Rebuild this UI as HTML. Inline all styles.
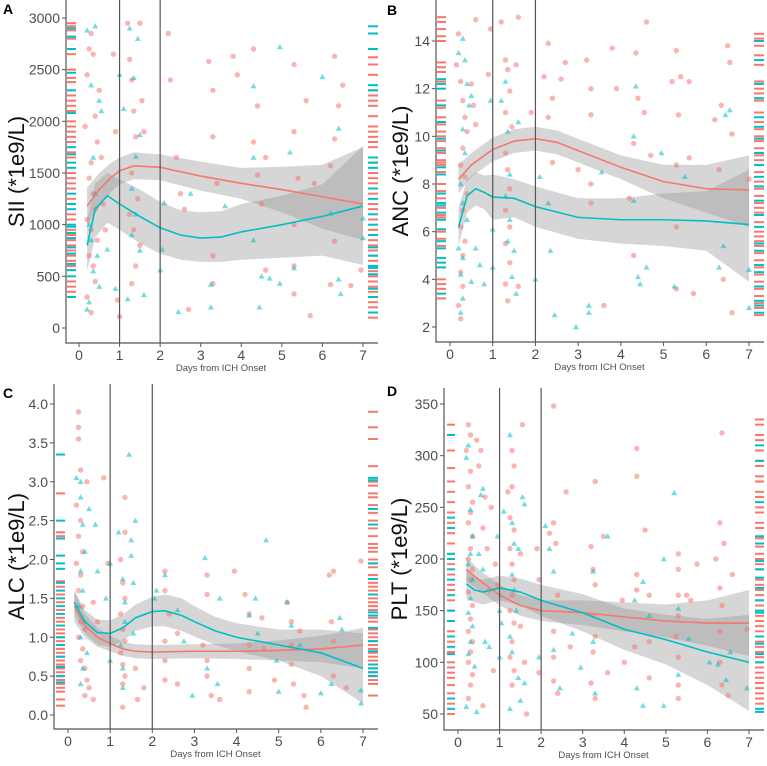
<!DOCTYPE html>
<html><head><meta charset="utf-8"><style>
html,body{margin:0;padding:0;background:#fff;}
svg{display:block;font-family:"Liberation Sans",sans-serif;}
</style></head><body>
<svg id="chart" width="767" height="766" viewBox="0 0 767 766"></svg>
<script>
// ---------- Panel A : SII ----------
const aYTicks=[0,500,1000,1500,2000,2500,3000];
const aRedPts=[[0.15,1950],[0.2,2450],[0.25,2700],[0.3,2850],[0.35,2650],[0.4,2050],[0.45,1800],[0.3,1600],[0.25,1450],[0.35,1300],[0.4,1150],[0.2,1050],[0.3,950],[0.45,850],[0.25,700],[0.35,600],[0.4,450],[0.2,300],[0.3,150],[0.5,2300],[0.55,1650],[0.6,1200],[0.65,950],[0.85,2650],[0.9,1900],[0.95,270],[1.0,110],[1.2,2950],[1.25,2600],[1.3,2400],[1.35,2100],[1.4,1850],[1.3,1500],[1.45,1250],[1.25,1100],[1.35,950],[1.5,800],[1.4,600],[1.3,430],[1.55,2200],[1.6,1900],[1.5,2950],[2.2,2850],[2.25,2400],[2.4,1650],[2.5,1300],[2.6,1150],[2.7,180],[3.2,2580],[3.3,2300],[3.3,1850],[3.4,1400],[3.3,700],[3.3,430],[3.8,2630],[3.9,2450],[4.3,2700],[4.4,2150],[4.3,1800],[4.4,1480],[4.5,1200],[4.6,1650],[4.6,560],[5.3,2550],[5.3,1900],[5.4,1450],[5.3,1000],[5.3,600],[5.3,330],[5.6,2200],[5.7,120],[5.8,1400],[6.2,1570],[6.3,2630],[6.3,1830],[6.4,2150],[6.5,2350],[6.3,840],[6.2,420],[6.7,410],[6.95,560]];
const aCyanPts=[[0.2,2880],[0.4,2920],[0.3,2350],[0.5,2200],[0.55,2100],[0.35,1650],[0.4,1300],[0.25,1000],[0.3,850],[0.45,700],[0.35,550],[0.5,400],[0.25,250],[0.2,180],[1.0,2450],[1.1,2120],[1.25,2900],[1.35,2420],[1.45,2800],[1.5,1870],[1.4,1660],[1.3,1350],[1.4,1100],[1.3,900],[1.5,750],[1.6,320],[1.2,280],[0.7,760],[0.9,380],[2.05,760],[2.1,1210],[2.0,560],[2.45,155],[2.75,1300],[3.25,420],[3.25,200],[3.6,1180],[4.3,2340],[4.3,1650],[4.3,850],[4.5,500],[4.45,200],[4.7,480],[4.95,2720],[4.95,430],[5.2,1700],[5.3,580],[6.0,2430],[6.4,1930],[6.4,470],[6.45,330],[7.0,1060],[7.0,870],[6.2,1110]];
const aRedSmX=[0.2,0.5,0.8,1.0,1.35,2,3,4,5,6,7];
const aRedSmY=[1180,1340,1460,1520,1570,1555,1470,1400,1340,1270,1200];
const aRedLo=[1000,1180,1320,1390,1440,1430,1330,1250,1120,960,850];
const aRedHi=[1360,1500,1600,1650,1700,1680,1610,1550,1560,1580,1750];
const aCyanSmX=[0.2,0.4,0.7,1.0,1.5,2,2.5,3,3.5,4,5,6,7];
const aCyanSmY=[800,1150,1280,1200,1080,970,900,870,880,930,1000,1080,1180];
const aCyanLo=[550,880,1020,950,820,720,660,640,640,660,680,700,610];
const aCyanHi=[1050,1400,1500,1440,1340,1220,1140,1120,1130,1200,1280,1390,1760];
const aRugLRed=[2950,2920,2880,2800,2700,2650,2500,2420,2380,2250,2200,2150,2100,2000,1950,1900,1850,1800,1700,1650,1500,1450,1400,1350,1250,1100,1050,950,900,850,800,750,700,650,600,450,400,350,300];
const aRugLCyan=[2900,2820,2700,2470,2300,2080,1750,1680,1600,1550,1300,1200,1150,1000,980,920,870,780,720,620,560,500,300];
const aRugRRed=[2850,2700,2620,2550,2450,2300,2250,2200,2150,2050,1950,1900,1850,1800,1750,1600,1500,1450,1400,1300,1200,1150,1050,950,900,850,800,750,700,650,550,500,450,400,350,250,200,100];
const aRugRCyan=[2920,2850,2700,2350,2300,1650,1600,1550,1350,1250,1100,1000,900,780,700,600,580,520,380,300,150];

// ---------- Panel B : ANC ----------
const bYTicks=[2,4,6,8,10,12,14];
const bRedPts=[[0.15,13],[0.2,14.3],[0.25,12.3],[0.3,11.5],[0.35,10.8],[0.4,10.2],[0.3,9.5],[0.25,8.8],[0.35,8.3],[0.4,7.6],[0.3,6.9],[0.25,6.2],[0.35,5.6],[0.3,5.0],[0.25,4.3],[0.3,3.7],[0.2,2.9],[0.25,2.35],[0.5,12.2],[0.55,11.3],[0.6,10.5],[0.6,14.9],[0.9,12.6],[0.95,14.5],[1.2,14.8],[1.3,13.2],[1.35,12.8],[1.4,11.9],[1.3,11.0],[1.45,10.4],[1.3,9.3],[1.35,8.6],[1.4,7.8],[1.3,6.9],[1.4,6.2],[1.3,5.5],[1.4,4.7],[1.3,3.8],[1.35,3.1],[1.6,15],[1.55,13],[1.6,3.7],[1.9,11.0],[2.2,12.5],[2.3,13.9],[2.4,11.6],[2.3,10.8],[2.4,8.9],[2.6,12.4],[2.7,13.1],[3.0,8.6],[3.2,13.2],[3.3,12.0],[3.3,10.9],[3.3,8.0],[3.3,7.2],[3.6,2.9],[3.8,13.7],[3.9,12.0],[4.2,7.4],[4.3,9.7],[4.3,5.0],[4.35,13.5],[4.4,11.6],[4.55,11.0],[4.6,14.8],[4.7,9.2],[5.2,12.3],[5.3,13.6],[5.35,10.9],[5.3,8.8],[5.3,6.2],[5.3,3.6],[5.4,12.5],[5.6,12.3],[5.6,9.1],[5.7,3.4],[6.2,10.7],[6.35,11.3],[6.5,13.8],[6.55,13.1],[6.6,10.1],[6.3,8.6],[6.4,4.0],[6.6,2.6],[7.0,8.2]];
const bCyanPts=[[0.2,13.5],[0.3,14.1],[0.35,13.2],[0.4,12.2],[0.5,11.7],[0.45,11.3],[0.3,10.3],[0.35,9.3],[0.25,8.0],[0.3,7.2],[0.4,6.5],[0.2,5.3],[0.3,4.9],[0.25,4.2],[0.3,3.2],[0.25,2.6],[0.5,3.9],[0.6,5.3],[0.7,4.6],[0.8,3.8],[0.95,11.5],[1.0,6.1],[1.0,4.5],[1.2,11.5],[1.3,12.3],[1.35,10.2],[1.4,8.4],[1.3,7.5],[1.4,6.5],[1.35,5.6],[1.5,5.2],[1.45,4.1],[1.55,3.4],[1.6,10.6],[2.0,4.0],[2.1,8.3],[2.3,7.2],[2.35,5.2],[2.45,2.5],[2.95,2.0],[3.25,2.9],[3.25,2.6],[3.55,8.5],[4.3,10.0],[4.3,7.3],[4.35,12.1],[4.4,4.1],[4.45,3.8],[4.6,4.5],[4.95,9.3],[5.25,3.7],[5.5,8.3],[6.3,4.5],[6.45,10.9],[6.55,11.1],[6.4,5.4],[7.0,4.4],[7.0,2.8]];
const bRedSmX=[0.2,0.5,1,1.5,2,2.5,3,4,5,6,7];
const bRedSmY=[8.2,8.8,9.45,9.8,9.9,9.75,9.4,8.7,8.1,7.8,7.75];
const bRedLo=[7.6,8.3,8.95,9.3,9.4,9.25,8.9,8.2,7.4,6.8,6.2];
const bRedHi=[8.8,9.3,9.95,10.3,10.4,10.25,9.9,9.2,8.8,8.8,9.2];
const bCyanSmX=[0.2,0.4,0.6,0.8,1,1.5,2,3,4,5,6,7];
const bCyanSmY=[6.2,7.5,7.8,7.65,7.45,7.4,7.05,6.6,6.5,6.5,6.45,6.3];
const bCyanLo=[5.4,6.8,7.1,6.95,6.5,6.6,6.2,5.7,5.5,5.4,5.2,3.9];
const bCyanHi=[7.0,8.2,8.5,8.35,8.4,8.2,7.9,7.4,7.4,7.6,7.7,8.6];
const bRugLRed=[15,14.8,14.5,14.2,14.0,13.1,12.9,12.7,12.3,11.5,11.2,10.8,10.5,10.2,10.0,9.8,9.5,9.3,9.0,8.9,8.8,8.5,8.0,7.7,7.4,7.0,6.7,6.6,6.0,5.7,5.4,4.0,3.8,3.6,3.2];
const bRugLCyan=[12.4,12.2,12.0,11.3,10.6,9.9,9.4,8.7,8.4,7.6,7.2,7.1,6.8,6.5,6.1,5.6,5.3,4.9,4.7,4.5,3.4];
const bRugRRed=[14.3,14.1,13.8,13.4,13.0,12.3,12.0,11.8,11.5,11.0,10.6,10.3,10.0,9.8,9.5,9.2,9.0,8.5,8.1,7.8,7.5,7.2,7.0,6.8,6.4,6.0,5.8,5.6,5.4,5.1,4.8,4.5,4.2,3.9,3.6,3.3,3.0,2.8,2.5];
const bRugRCyan=[14.0,13.2,12.2,11.6,10.8,10.4,9.9,9.3,8.8,8.3,7.9,7.3,6.7,6.2,5.5,5.2,4.6,4.3,3.7,3.1,2.9,2.6];

// ---------- Panel C : ALC ----------
const cYTicks=[0.0,0.5,1.0,1.5,2.0,2.5,3.0,3.5,4.0];
const cRedPts=[[0.25,3.9],[0.25,3.7],[0.25,3.55],[0.3,3.15],[0.45,3.0],[0.2,2.7],[0.3,2.5],[0.25,2.3],[0.35,2.1],[0.2,1.95],[0.3,1.8],[0.25,1.6],[0.35,1.4],[0.3,1.2],[0.4,1.1],[0.25,1.0],[0.35,0.85],[0.3,0.7],[0.4,0.6],[0.45,0.45],[0.5,0.35],[0.4,0.25],[0.6,0.2],[0.6,1.45],[0.7,1.2],[0.85,3.05],[0.95,1.95],[1.25,2.0],[1.35,2.8],[1.35,2.35],[1.3,1.7],[1.35,1.5],[1.25,1.3],[1.3,1.1],[1.35,0.95],[1.25,0.8],[1.3,0.65],[1.35,0.5],[1.3,0.4],[1.3,0.1],[1.6,0.6],[1.65,0.2],[1.8,0.35],[2.3,1.85],[2.3,1.6],[2.4,1.3],[2.3,0.95],[2.3,0.7],[2.3,0.45],[2.6,0.4],[2.6,1.05],[3.3,1.8],[3.3,1.55],[3.2,0.9],[3.3,0.7],[3.3,0.5],[3.4,0.25],[3.6,0.2],[3.95,1.85],[4.2,1.55],[4.3,1.3],[4.3,0.9],[4.3,0.6],[4.3,0.3],[4.6,1.25],[4.65,0.85],[4.9,0.45],[5.2,1.45],[5.3,1.2],[5.3,0.9],[5.3,0.65],[5.35,0.4],[5.6,0.25],[5.65,0.1],[5.5,1.08],[6.2,1.8],[6.3,1.85],[6.25,1.2],[6.3,0.95],[6.3,0.5],[6.6,0.35],[6.95,1.98]];
const cCyanPts=[[0.2,3.05],[0.3,3.0],[0.3,2.8],[0.35,2.45],[0.4,2.1],[0.3,1.85],[0.35,1.6],[0.25,1.4],[0.4,1.2],[0.3,1.0],[0.45,0.8],[0.35,0.6],[0.3,0.4],[0.5,2.65],[0.65,2.45],[0.7,1.85],[0.9,1.5],[1.0,1.95],[1.0,0.7],[1.2,2.35],[1.3,1.75],[1.35,1.45],[1.35,1.2],[1.25,0.9],[1.3,0.6],[1.3,0.35],[1.45,3.35],[1.5,2.25],[1.6,2.5],[1.5,2.05],[1.55,1.7],[1.55,1.05],[2.05,1.5],[2.1,1.6],[2.3,1.8],[2.6,1.35],[2.75,0.95],[2.95,0.25],[3.25,2.02],[3.3,0.6],[3.55,0.4],[3.6,1.5],[4.3,1.28],[4.45,1.5],[4.5,1.05],[4.7,2.25],[4.95,0.7],[5.0,0.3],[5.2,1.45],[5.3,1.15],[5.5,0.9],[6.0,0.28],[6.25,0.4],[6.45,1.25],[6.5,1.1],[6.95,0.32],[6.95,0.15]];
const cRedSmX=[0.15,0.4,0.7,1.0,1.3,1.6,2,3,4,5,6,7];
const cRedSmY=[1.4,1.15,1.0,0.92,0.85,0.82,0.81,0.82,0.82,0.83,0.85,0.9];
const cRedLo=[1.2,1.0,0.88,0.82,0.76,0.73,0.72,0.73,0.72,0.7,0.68,0.6];
const cRedHi=[1.6,1.3,1.12,1.02,0.94,0.91,0.9,0.91,0.92,0.96,1.02,1.12];
const cCyanSmX=[0.15,0.4,0.7,1.0,1.3,1.6,2,2.3,2.7,3,3.5,4,5,6,7];
const cCyanSmY=[1.45,1.2,1.06,1.05,1.12,1.25,1.33,1.34,1.28,1.2,1.08,1.0,0.9,0.8,0.6];
const cCyanLo=[1.3,1.05,0.9,0.88,0.95,1.08,1.14,1.14,1.08,1.01,0.9,0.82,0.7,0.5,0.15];
const cCyanHi=[1.6,1.35,1.22,1.22,1.29,1.42,1.52,1.55,1.5,1.4,1.26,1.18,1.1,1.1,1.05];
const cRugLRed=[2.85,2.35,2.3,1.72,1.65,1.55,1.45,1.35,1.25,1.2,1.1,1.05,1.0,0.95,0.9,0.85,0.8,0.75,0.7,0.65,0.6,0.55,0.5,0.45,0.4,0.35,0.3,0.2,0.12];
const cRugLCyan=[3.35,2.5,2.27,2.05,1.95,1.88,1.7,1.6,1.5,1.4,1.3,1.15,1.0,0.9,0.75,0.62,0.5,0.42];
const cRugRRed=[3.9,3.7,3.55,3.2,3.0,2.95,2.85,2.8,2.7,2.6,2.5,2.4,2.3,2.2,2.15,2.1,2.0,1.95,1.9,1.8,1.7,1.65,1.6,1.5,1.45,1.4,1.35,1.25,1.2,1.1,1.05,1.0,0.95,0.9,0.85,0.8,0.75,0.7,0.6,0.55,0.5,0.45,0.4,0.25];
const cRugRCyan=[3.05,3.02,2.65,2.45,1.95,1.75,1.55,1.32,1.28,1.12,0.95,0.82,0.65,0.6,0.55,0.5];

// ---------- Panel D : PLT ----------
const dYTicks=[50,100,150,200,250,300,350];
const dRedPts=[[0.25,330],[0.3,320],[0.2,305],[0.3,285],[0.25,270],[0.35,255],[0.3,245],[0.25,235],[0.35,222],[0.3,210],[0.25,200],[0.35,190],[0.3,180],[0.25,168],[0.35,155],[0.3,142],[0.25,130],[0.35,120],[0.3,110],[0.25,100],[0.35,88],[0.3,78],[0.25,65],[0.45,315],[0.5,290],[0.55,305],[0.6,230],[0.65,260],[0.7,210],[0.75,170],[0.8,250],[0.9,195],[0.95,175],[0.85,92],[0.6,58],[1.2,265],[1.25,240],[1.3,305],[1.35,290],[1.3,270],[1.35,228],[1.25,210],[1.3,195],[1.35,180],[1.3,165],[1.25,150],[1.35,138],[1.3,120],[1.25,105],[1.35,92],[1.3,78],[1.55,330],[1.5,205],[1.5,135],[1.6,100],[1.65,50],[1.9,210],[1.95,180],[1.95,90],[2.2,225],[2.3,348],[2.3,235],[2.35,215],[2.4,165],[2.3,130],[2.3,105],[2.3,82],[2.4,70],[2.6,265],[2.7,115],[3.2,212],[3.25,190],[3.3,275],[3.3,175],[3.25,145],[3.3,125],[3.25,110],[3.2,80],[3.3,65],[3.5,222],[3.6,90],[3.95,160],[4.0,100],[4.3,307],[4.3,280],[4.3,185],[4.3,170],[4.25,115],[4.5,228],[4.6,165],[4.6,120],[4.6,85],[5.3,205],[5.3,190],[5.3,165],[5.3,145],[5.25,125],[5.3,105],[5.3,78],[5.3,65],[5.5,165],[5.6,160],[5.75,195],[6.2,200],[6.3,235],[6.3,172],[6.35,155],[6.3,130],[6.3,100],[6.35,78],[6.4,215],[6.5,68],[6.6,185],[6.95,132],[6.35,322]];
const dCyanPts=[[0.2,298],[0.25,310],[0.3,248],[0.35,222],[0.3,205],[0.25,195],[0.35,180],[0.3,162],[0.25,148],[0.35,135],[0.3,120],[0.25,108],[0.4,96],[0.45,52],[0.2,57],[0.55,262],[0.6,268],[0.5,205],[0.6,190],[0.65,120],[0.75,115],[0.95,222],[1.0,150],[1.0,105],[1.05,138],[1.1,246],[1.25,320],[1.3,235],[1.35,215],[1.3,185],[1.35,170],[1.25,125],[1.3,110],[1.25,55],[1.45,210],[1.4,150],[1.45,85],[1.5,63],[1.55,260],[1.6,253],[1.6,80],[1.95,105],[2.1,232],[2.2,210],[2.3,188],[2.3,112],[2.45,75],[2.75,128],[2.95,95],[3.25,188],[3.25,120],[3.3,70],[3.6,222],[4.25,160],[4.3,75],[4.45,178],[4.45,58],[4.6,145],[4.95,200],[4.95,58],[5.2,264],[5.3,152],[5.3,88],[5.55,123],[6.05,100],[6.25,98],[6.45,83],[6.55,110],[6.95,75]];
const dRedSmX=[0.2,0.5,1,1.5,2,3,4,5,6,7];
const dRedSmY=[190,180,165,155,150,148,144,140,138,138];
const dRedLo=[178,170,155,145,140,136,130,124,116,106];
const dRedHi=[202,190,175,165,160,160,158,156,160,170];
const dCyanSmX=[0.2,0.4,0.6,0.8,1,1.5,2,3,4,5,6,7];
const dCyanSmY=[176,170,168,170,172,168,160,148,132,122,110,100];
const dCyanLo=[162,158,156,158,160,155,145,130,112,98,78,53];
const dCyanHi=[190,182,180,182,184,181,175,166,152,146,142,146];
const dRugLRed=[330,305,288,275,265,255,245,235,225,215,205,200,195,185,175,170,160,150,140,130,120,110,100,95,90,85,78,70,60,50];
const dRugLCyan=[320,240,230,205,200,190,180,165,150,140,125,115,108,65,55];
const dRugRRed=[335,330,320,315,305,295,290,280,275,265,260,250,245,235,230,220,212,205,200,195,190,180,175,170,165,160,155,150,145,140,135,130,125,120,115,110,105,100,95,90,85,80,75,70,65,60];
const dRugRCyan=[310,295,255,222,215,198,190,182,172,160,150,148,125,118,108,100,55,52];

const svg=document.getElementById('chart');
const NS='http://www.w3.org/2000/svg';
const RED='#F8766D', CYAN='#00BFC4';
function mk(tag,attrs,parent){const e=document.createElementNS(NS,tag);for(const k in attrs)e.setAttribute(k,attrs[k]);(parent||svg).appendChild(e);return e;}

function panel(P){
  const g=mk('g',{});
  
  
  const sx=v=>P.x0+(P.x7-P.x0)*v/7;
  const sy=v=>P.yb+(P.yt-P.yb)*(v-P.vb)/(P.vt-P.vb);
  function ribbon(xs,lo,hi,name){
    let d='M'+xs.map((x,i)=>sx(x)+','+sy(hi[i])).join('L');
    for(let i=xs.length-1;i>=0;i--)d+='L'+sx(xs[i])+','+sy(lo[i]);
    const p=mk('path',{d:d+'Z',fill:'#999',opacity:'0.4'},g);
    
    
  }
  ribbon(P.rsx,P.rlo,P.rhi,'red-confidence-band');
  ribbon(P.csx,P.clo,P.chi,'cyan-confidence-band');
  P.rp.forEach(pt=>{
    const c=mk('circle',{cx:sx(pt[0]),cy:sy(pt[1]),r:2.7,fill:RED,opacity:'0.55'},g);
    
    
  });
  P.cp.forEach(pt=>{
    const x=sx(pt[0]),y=sy(pt[1]);
    const t=mk('polygon',{points:`${x},${y-3} ${x-3},${y+2.2} ${x+3},${y+2.2}`,fill:CYAN,opacity:'0.55'},g);
    
    
  });
  function line(xs,ys,col,name){
    const l=mk('polyline',{points:xs.map((x,i)=>sx(x)+','+sy(ys[i])).join(' '),fill:'none',stroke:col,'stroke-width':1.6,'stroke-linejoin':'round'},g);
    
    
  }
  line(P.rsx,P.rsy,RED,'red-smooth-line');
  line(P.csx,P.csy,CYAN,'cyan-smooth-line');
  function rug(vals,col,x1,x2,name){
    vals.forEach(v=>{
      const r=mk('line',{x1:x1,x2:x2,y1:sy(v),y2:sy(v),stroke:col,'stroke-width':2},g);
      
      
    });
  }
  rug(P.rlr,RED,P.rugL[0],P.rugL[1],'left-rug-red');
  rug(P.rlc,CYAN,P.rugL[0],P.rugL[1],'left-rug-cyan');
  rug(P.rrr,RED,P.rugR[0],P.rugR[1],'right-rug-red');
  rug(P.rrc,CYAN,P.rugR[0],P.rugR[1],'right-rug-cyan');
  [1,2].forEach(d=>{
    const v=mk('line',{x1:sx(d),x2:sx(d),y1:P.top,y2:P.bottom,stroke:'#555','stroke-width':1.2},g);
    
    
  });
  const ax=mk('path',{d:`M${P.left},${P.top}V${P.bottom}H${P.right}`,fill:'none',stroke:'#555','stroke-width':1.2},g);
  
  
  for(let d=0;d<=7;d++){
    mk('line',{x1:sx(d),x2:sx(d),y1:P.bottom,y2:P.bottom+4,stroke:'#555'},g);
    const t=mk('text',{x:sx(d),y:P.bottom+17,'font-size':14,fill:'#4d4d4d','text-anchor':'middle'},g);
    t.textContent=d;
    
    
  }
  P.ticks.forEach(v=>{
    mk('line',{x1:P.left-4,x2:P.left,y1:sy(v),y2:sy(v),stroke:'#555'},g);
    const t=mk('text',{x:P.left-6,y:sy(v)+5,'font-size':14,fill:'#4d4d4d','text-anchor':'end'},g);
    t.textContent=P.dec?v.toFixed(1):v;
    
    
  });
  const xt=mk('text',{x:(sx(0)+sx(7))/2,y:P.bottom+28,'font-size':9.5,fill:'#4d4d4d','text-anchor':'middle'},g);
  xt.textContent='Days from ICH Onset';
  
  
  const yt=mk('text',{x:0,y:0,'font-size':22,fill:'#111','text-anchor':'middle',transform:`translate(${P.ytx},${(P.top+P.bottom)/2}) rotate(-90)`},g);
  yt.textContent=P.ytitle;
  
  
  const lb=mk('text',{x:P.lx,y:P.ly,'font-size':14,'font-weight':'bold',fill:'#000'},g);
  lb.textContent=P.id;
  
  
}

panel({id:'A',left:66,right:378,top:0,bottom:343,x0:79,x7:363,vb:0,vt:3000,yb:328,yt:18,ticks:aYTicks,
  rp:aRedPts,cp:aCyanPts,rsx:aRedSmX,rsy:aRedSmY,rlo:aRedLo,rhi:aRedHi,csx:aCyanSmX,csy:aCyanSmY,clo:aCyanLo,chi:aCyanHi,
  rlr:aRugLRed,rlc:aRugLCyan,rrr:aRugRRed,rrc:aRugRCyan,rugL:[67,76],rugR:[368,378],ytitle:'SII (*1e9/L)',ytx:24,lx:3,ly:14});
panel({id:'B',left:436,right:764,top:0,bottom:342,x0:450,x7:749,vb:2,vt:14,yb:327,yt:41,ticks:bYTicks,
  rp:bRedPts,cp:bCyanPts,rsx:bRedSmX,rsy:bRedSmY,rlo:bRedLo,rhi:bRedHi,csx:bCyanSmX,csy:bCyanSmY,clo:bCyanLo,chi:bCyanHi,
  rlr:bRugLRed,rlc:bRugLCyan,rrr:bRugRRed,rrc:bRugRCyan,rugL:[437,446],rugR:[754,764],ytitle:'ANC (*1e9/L)',ytx:408,lx:387,ly:15});
panel({id:'C',left:54,right:378,top:384,bottom:729,x0:68,x7:363,vb:0,vt:4,yb:715,yt:404,ticks:cYTicks,dec:true,
  rp:cRedPts,cp:cCyanPts,rsx:cRedSmX,rsy:cRedSmY,rlo:cRedLo,rhi:cRedHi,csx:cCyanSmX,csy:cCyanSmY,clo:cCyanLo,chi:cCyanHi,
  rlr:cRugLRed,rlc:cRugLCyan,rrr:cRugRRed,rrc:cRugRCyan,rugL:[56,65],rugR:[368,378],ytitle:'ALC (*1e9/L)',ytx:24,lx:3,ly:398});
panel({id:'D',left:444,right:764,top:388,bottom:730,x0:458,x7:749,vb:50,vt:350,yb:714,yt:404,ticks:dYTicks,
  rp:dRedPts,cp:dCyanPts,rsx:dRedSmX,rsy:dRedSmY,rlo:dRedLo,rhi:dRedHi,csx:dCyanSmX,csy:dCyanSmY,clo:dCyanLo,chi:dCyanHi,
  rlr:dRugLRed,rlc:dRugLCyan,rrr:dRugRRed,rrc:dRugRCyan,rugL:[447,455],rugR:[755,764],ytitle:'PLT (*1e9/L)',ytx:407,lx:387,ly:396});
</script>
</body></html>
